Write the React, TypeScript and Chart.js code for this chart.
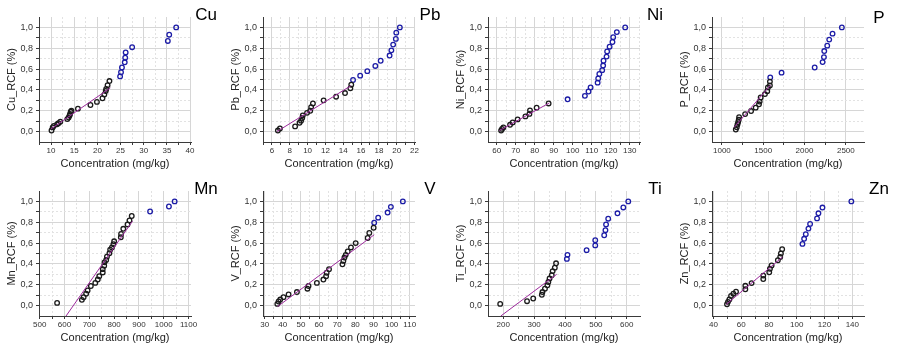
import React, { useEffect, useRef } from 'react';
import { Chart, registerables } from 'chart.js';

Chart.register(...registerables);

// ---------- data (concentration mg/kg, RCF) ----------
const cuConc = [10.1, 10.35, 10.6, 11.3, 11.6, 12.0, 13.5, 13.8, 14.0, 14.1, 14.25, 14.4, 15.8, 18.5, 19.9, 21.1, 21.5, 21.8, 21.9, 22.2, 22.6,
  24.9, 25.1, 25.3, 25.9, 26.0, 26.1, 27.5, 35.2, 35.5, 37.0];
const cuRcf = [0.01, 0.04, 0.055, 0.07, 0.08, 0.095, 0.12, 0.135, 0.155, 0.17, 0.19, 0.2, 0.22, 0.255, 0.285, 0.32, 0.355, 0.39, 0.41, 0.445, 0.485,
  0.53, 0.57, 0.615, 0.665, 0.71, 0.76, 0.81, 0.87, 0.93, 1.0];
const cuBlueFrom = 21;
const cuFitConc = [10, 22.8];
const cuFitRcf = [0.026, 0.42];

const pbConc = [6.67, 6.9, 8.6, 9.1, 9.27, 9.4, 9.46, 9.94, 10.3, 10.4, 10.6, 11.8, 13.2, 14.2, 14.8, 14.9,
  15.1, 15.9, 16.7, 17.6, 18.2, 19.2, 19.4, 19.6, 19.9, 19.95, 20.35];
const pbRcf = [0.01, 0.03, 0.05, 0.085, 0.105, 0.13, 0.155, 0.18, 0.2, 0.235, 0.27, 0.3, 0.335, 0.37, 0.415, 0.45,
  0.495, 0.537, 0.58, 0.63, 0.68, 0.73, 0.78, 0.835, 0.89, 0.95, 1.0];
const pbBlueFrom = 16;
const pbFitConc = [6.56, 14.85];
const pbFitRcf = [0.0, 0.44];

const niConc = [62.3, 62.8, 63.5, 67.0, 68.4, 71.0, 75.1, 77.2, 77.5, 81.0, 87.3,
  97.3, 106.4, 108.3, 109.4, 113.1, 113.4, 114.0, 115.5, 116.0, 116.2, 117.8, 118.1, 119.4, 120.9, 121.3, 123.2, 127.6];
const niRcf = [0.01, 0.026, 0.04, 0.065, 0.087, 0.117, 0.146, 0.17, 0.204, 0.23, 0.27,
  0.31, 0.343, 0.385, 0.424, 0.47, 0.51, 0.553, 0.59, 0.634, 0.68, 0.72, 0.77, 0.815, 0.86, 0.906, 0.955, 1.0];
const niBlueFrom = 11;
const niFitConc = [61.4, 87.7];
const niFitRcf = [0.01, 0.275];

const pConc = [1168, 1180, 1188, 1196, 1204, 1208, 1281, 1353, 1409, 1449, 1457, 1469, 1521, 1549, 1557, 1581, 1581,
  1585, 1722, 2123, 2219, 2235, 2239, 2275, 2299, 2339, 2452];
const pRcf = [0.02, 0.042, 0.068, 0.09, 0.113, 0.139, 0.168, 0.197, 0.23, 0.262, 0.288, 0.327, 0.36, 0.388, 0.424, 0.443, 0.48,
  0.52, 0.566, 0.615, 0.667, 0.715, 0.773, 0.825, 0.883, 0.94, 1.0];
const pBlueFrom = 17;
const pFitConc = [1148, 1589];
const pFitRcf = [0.04, 0.447];

const mnConc = [570, 670, 677, 687, 693, 706, 724, 734, 740, 754, 754, 760, 761, 768, 771, 781, 784, 791, 797, 800, 827, 828, 837, 854, 862, 871,
  945, 1021, 1044];
const mnRcf = [0.026, 0.055, 0.08, 0.114, 0.146, 0.188, 0.218, 0.25, 0.282, 0.318, 0.35, 0.383, 0.415, 0.438, 0.47, 0.503, 0.536, 0.558, 0.59, 0.617, 0.656, 0.688, 0.737, 0.779, 0.818, 0.86,
  0.903, 0.951, 1.0];
const mnBlueFrom = 26;
const mnFitConc = [606, 874];
const mnFitRcf = [-0.1, 0.81];

const vConc = [37.0, 37.7, 38.6, 40.4, 43.2, 47.8, 53.6, 54.2, 58.8, 62.4, 63.9, 64.2, 65.5, 72.9, 73.4, 74.0, 74.7, 75.8, 77.6, 80.2, 86.8, 87.7, 90.1,
  90.4, 92.6, 97.8, 99.6, 106.2];
const vRcf = [0.016, 0.039, 0.058, 0.081, 0.107, 0.13, 0.162, 0.188, 0.218, 0.25, 0.282, 0.315, 0.35, 0.396, 0.429, 0.461, 0.487, 0.519, 0.558, 0.6, 0.649, 0.698, 0.747,
  0.795, 0.844, 0.893, 0.948, 1.0];
const vBlueFrom = 23;
const vFitConc = [37.1, 90.4];
const vFitRcf = [-0.01, 0.68];

const tiConc = [190, 277, 297, 325, 327, 335, 343, 346, 350, 357, 360, 367, 371,
  406, 408, 470, 498, 498, 527, 531, 533, 540, 570, 589, 605];
const tiRcf = [0.016, 0.042, 0.068, 0.104, 0.13, 0.162, 0.195, 0.227, 0.26, 0.292, 0.331, 0.364, 0.406,
  0.448, 0.487, 0.532, 0.578, 0.627, 0.675, 0.724, 0.779, 0.834, 0.886, 0.942, 1.0];
const tiBlueFrom = 13;
const tiFitConc = [192, 373];
const tiFitRcf = [-0.1, 0.3];

const znConc = [49.8, 50.5, 51.5, 52.7, 54.4, 56.3, 63.0, 63.0, 67.5, 75.9, 75.9, 80.2, 80.7, 81.9, 86.4, 88.1, 88.6, 89.5,
  104.1, 105.3, 106.5, 108.4, 109.6, 114.6, 115.6, 118.5, 139.3];
const znRcf = [0.013, 0.036, 0.059, 0.092, 0.114, 0.134, 0.157, 0.19, 0.216, 0.255, 0.288, 0.32, 0.353, 0.386, 0.435, 0.467, 0.5, 0.542,
  0.592, 0.641, 0.686, 0.739, 0.784, 0.837, 0.886, 0.941, 1.0];
const znBlueFrom = 18;
const znFitConc = [49.1, 89.8];
const znFitRcf = [0.01, 0.467];

// ---------- panel configuration ----------
type PanelCfg = {
  name: string; conc: number[]; rcf: number[]; blueFrom: number;
  fitConc: number[]; fitRcf: number[];
  xMin: number; xMax: number; major: number; minor: number; labelDy?: number;
};

const panels: PanelCfg[] = [
  { name: 'Cu', conc: cuConc, rcf: cuRcf, blueFrom: cuBlueFrom, fitConc: cuFitConc, fitRcf: cuFitRcf, xMin: 7.4, xMax: 40.2, major: 5, minor: 2.5 },
  { name: 'Pb', conc: pbConc, rcf: pbRcf, blueFrom: pbBlueFrom, fitConc: pbFitConc, fitRcf: pbFitRcf, xMin: 5.0, xMax: 22.05, major: 2, minor: 1 },
  { name: 'Ni', conc: niConc, rcf: niRcf, blueFrom: niBlueFrom, fitConc: niFitConc, fitRcf: niFitRcf, xMin: 55.4, xMax: 135.4, major: 10, minor: 5 },
  { name: 'P', conc: pConc, rcf: pRcf, blueFrom: pBlueFrom, fitConc: pFitConc, fitRcf: pFitRcf, xMin: 880, xMax: 2720, major: 500, minor: 250, labelDy: 3 },
  { name: 'Mn', conc: mnConc, rcf: mnRcf, blueFrom: mnBlueFrom, fitConc: mnFitConc, fitRcf: mnFitRcf, xMin: 497, xMax: 1110, major: 100, minor: 50 },
  { name: 'V', conc: vConc, rcf: vRcf, blueFrom: vBlueFrom, fitConc: vFitConc, fitRcf: vFitRcf, xMin: 29.1, xMax: 112.9, major: 10, minor: 5 },
  { name: 'Ti', conc: tiConc, rcf: tiRcf, blueFrom: tiBlueFrom, fitConc: tiFitConc, fitRcf: tiFitRcf, xMin: 150.5, xMax: 643, major: 100, minor: 50 },
  { name: 'Zn', conc: znConc, rcf: znRcf, blueFrom: znBlueFrom, fitConc: znFitConc, fitRcf: znFitRcf, xMin: 39, xMax: 148.4, major: 20, minor: 10 },
];

const FONT = '"Liberation Sans", Arial, sans-serif';
const BLACK = '#1a1a1a';
const BLUE = '#1c1ca6';
const PURPLE = '#9c2a9c';
const GRID_MAJOR = '#d6d6d6';
const GRID_MINOR = '#e2e2e2';
const AXIS = '#3a3a3a';

const PANEL_W = 224;
const PANEL_H = 174;

function makeTicks(min: number, max: number, step: number): number[] {
  const out: number[] = [];
  const k0 = Math.ceil(min / step - 1e-9);
  const k1 = Math.floor(max / step + 1e-9);
  for (let k = k0; k <= k1; k++) out.push(Math.round(k * step * 1e6) / 1e6);
  return out;
}
function isMult(v: number, step: number) {
  const r = v / step;
  return Math.abs(r - Math.round(r)) < 1e-6;
}

const elemLabelPlugin = {
  id: 'elemLabel',
  afterDraw(chart: any, _args: any, opts: any) {
    const ctx = chart.ctx;
    ctx.save();
    ctx.font = `17px ${FONT}`;
    ctx.fillStyle = '#000';
    ctx.textAlign = 'center';
    ctx.textBaseline = 'alphabetic';
    ctx.fillText(opts.text, opts.x, opts.y);
    ctx.restore();
  },
};

function Panel({ cfg }: { cfg: PanelCfg }) {
  const ref = useRef<HTMLCanvasElement>(null);
  useEffect(() => {
    if (!ref.current) return;
    const black = cfg.conc.slice(0, cfg.blueFrom).map((x, i) => ({ x, y: cfg.rcf[i] }));
    const blue = cfg.conc.slice(cfg.blueFrom).map((x, i) => ({ x, y: cfg.rcf[i + cfg.blueFrom] }));
    const fit = cfg.fitConc.map((x, i) => ({ x, y: cfg.fitRcf[i] }));
    const xTicks = makeTicks(cfg.xMin, cfg.xMax, cfg.minor);
    const yTicks = makeTicks(0, 1.0, 0.1);
    const yMajor = 0.2;

    const gridColor = (step: number) => (ctx: any) =>
      ctx.tick && isMult(ctx.tick.value, step) ? GRID_MAJOR : GRID_MINOR;
    const gridDash = (step: number) => (ctx: any) =>
      ctx.tick && !isMult(ctx.tick.value, step) ? [2, 2] : [];

    const chart = new Chart(ref.current, {
      type: 'scatter',
      data: {
        datasets: [
          {
            type: 'line', data: fit, borderColor: PURPLE, borderWidth: 1, pointRadius: 0,
            showLine: true, fill: false, order: 0,
          } as any,
          {
            data: black, pointStyle: 'circle', pointRadius: 2.3, borderWidth: 1.3,
            borderColor: BLACK, backgroundColor: 'rgba(0,0,0,0)', order: 1,
          },
          {
            data: blue, pointStyle: 'circle', pointRadius: 2.3, borderWidth: 1.3,
            borderColor: BLUE, backgroundColor: 'rgba(0,0,0,0)', order: 1,
          },
        ],
      },
      options: {
        animation: false,
        responsive: false,
        devicePixelRatio: 1,
        layout: { padding: { top: 17, right: 33, left: 0, bottom: 0 } },
        plugins: {
          legend: { display: false },
          tooltip: { enabled: false },
          elemLabel: { text: cfg.name, x: 206, y: 20 + (cfg.labelDy || 0) },
        } as any,
        scales: {
          x: {
            type: 'linear',
            min: cfg.xMin,
            max: cfg.xMax,
            afterBuildTicks: (s: any) => { s.ticks = xTicks.map((v) => ({ value: v })); },
            afterFit: (s: any) => { s.height = 32; },
            ticks: {
              autoSkip: false, maxRotation: 0, padding: 1, color: '#333',
              font: { size: 8, family: FONT },
              callback: (v: any) => (isMult(Number(v), cfg.major) ? String(Math.round(Number(v) * 1000) / 1000) : ''),
            },
            grid: { color: gridColor(cfg.major), lineWidth: 1, drawTicks: true, tickLength: 3, tickColor: AXIS, tickWidth: 1 },
            border: { display: true, color: AXIS, width: 1, dash: gridDash(cfg.major) } as any,
            title: {
              display: true, text: 'Concentration (mg/kg)', color: '#222',
              font: { size: 11, family: FONT }, padding: { top: 0, bottom: 3 },
            },
          },
          y: {
            type: 'linear',
            min: -0.1,
            max: 1.1,
            afterBuildTicks: (s: any) => { s.ticks = yTicks.map((v) => ({ value: v })); },
            afterFit: (s: any) => { s.width = 39; },
            ticks: {
              autoSkip: false, padding: 3, color: '#333',
              font: { size: 9, family: FONT },
              callback: (v: any) => (isMult(Number(v), yMajor) ? Number(v).toFixed(1).replace('.', ',') : ''),
            },
            grid: { color: gridColor(yMajor), lineWidth: 1, drawTicks: true, tickLength: 3, tickColor: AXIS, tickWidth: 1 },
            border: { display: true, color: AXIS, width: 1, dash: gridDash(yMajor) } as any,
            title: {
              display: true, text: `${cfg.name}_RCF (%)`, color: '#222',
              font: { size: 11, family: FONT }, padding: { top: 5, bottom: 0 },
            },
          },
        },
      },
      plugins: [elemLabelPlugin],
    });
    return () => chart.destroy();
  }, [cfg]);
  return <canvas ref={ref} width={PANEL_W} height={PANEL_H} style={{ display: 'block', width: PANEL_W, height: PANEL_H }} />;
}

export default function App() {
  return (
    <div style={{ position: 'absolute', left: 0, top: 0, width: 897, height: 349, background: '#fff', overflow: 'hidden' }}>
      {panels.map((p, i) => {
        const col = i % 4;
        const row = Math.floor(i / 4);
        return (
          <div key={p.name} style={{ position: 'absolute', left: Math.round(col * 224.25), top: row * 174, width: PANEL_W, height: PANEL_H }}>
            <Panel cfg={p} />
          </div>
        );
      })}
    </div>
  );
}
